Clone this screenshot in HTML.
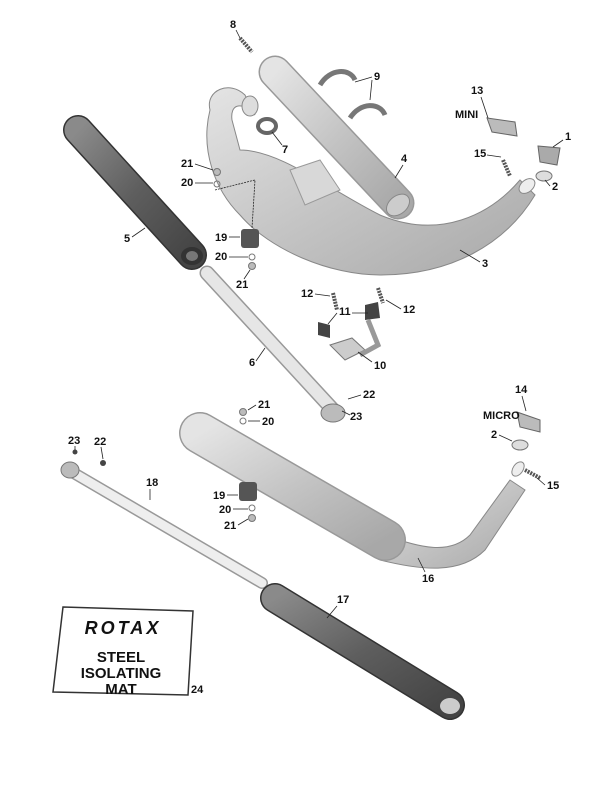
<!DOCTYPE html>
<html><head><meta charset="utf-8"><style>
html,body{margin:0;padding:0;background:#fff}
svg{display:block}
text{font-family:"Liberation Sans",sans-serif;font-weight:bold;font-size:11px;fill:#111}
.ld{stroke:#222;stroke-width:0.8;fill:none}
</style></head><body>
<svg width="616" height="792" viewBox="0 0 616 792" xmlns="http://www.w3.org/2000/svg">
<defs>
<linearGradient id="lg" x1="0" y1="0" x2="1" y2="1"><stop offset="0" stop-color="#e4e4e4"/><stop offset="0.5" stop-color="#c4c4c4"/><stop offset="1" stop-color="#a8a8a8"/></linearGradient>
<linearGradient id="dg" x1="0" y1="0" x2="1" y2="1"><stop offset="0" stop-color="#8a8a8a"/><stop offset="0.5" stop-color="#5e5e5e"/><stop offset="1" stop-color="#444"/></linearGradient>
</defs>
<rect width="616" height="792" fill="#fff"/>

<line x1="78" y1="130" x2="192" y2="255" stroke="#333" stroke-width="30" stroke-linecap="round"/>
<line x1="78" y1="130" x2="192" y2="255" stroke="url(#dg)" stroke-width="27" stroke-linecap="round"/>
<ellipse cx="192" cy="256" rx="11" ry="9" fill="#333"/><ellipse cx="192" cy="256" rx="6" ry="5" fill="#777"/>

<line x1="207" y1="273" x2="335" y2="412" stroke="#999" stroke-width="15" stroke-linecap="round"/>
<line x1="207" y1="273" x2="335" y2="412" stroke="#e6e6e6" stroke-width="12" stroke-linecap="round"/>
<ellipse cx="333" cy="413" rx="12" ry="9" fill="#bbb" stroke="#777"/>

<path d="M210,110 C205,90 230,80 245,95 L255,115 C240,100 230,105 232,120 L240,150 C280,150 330,190 380,215 C440,240 490,215 520,180 L535,195 C505,245 450,275 380,275 C330,275 270,250 240,215 C215,190 200,150 210,110 Z" fill="url(#lg)" stroke="#888" stroke-width="1"/>
<ellipse cx="527" cy="186" rx="9" ry="6" fill="#eee" stroke="#888" transform="rotate(-40 527 186)"/>
<ellipse cx="250" cy="106" rx="8" ry="10" fill="#ddd" stroke="#888"/>
<path d="M290,170 L320,160 L340,190 L305,205 Z" fill="#d8d8d8" stroke="#999"/>

<line x1="275" y1="72" x2="398" y2="203" stroke="#999" stroke-width="33" stroke-linecap="round"/>
<line x1="275" y1="72" x2="398" y2="203" stroke="url(#lg)" stroke-width="30" stroke-linecap="round"/>
<ellipse cx="398" cy="205" rx="13" ry="9" fill="#ccc" stroke="#888" transform="rotate(-40 398 205)"/>

<path d="M320,85 C330,68 350,68 355,80" fill="none" stroke="#777" stroke-width="5"/>
<path d="M350,118 C360,102 380,102 385,115" fill="none" stroke="#777" stroke-width="5"/>
<ellipse cx="267" cy="126" rx="9" ry="7" fill="none" stroke="#666" stroke-width="4"/>
<line x1="240" y1="38" x2="252" y2="52" stroke="#555" stroke-width="4" stroke-dasharray="2,1"/>

<path d="M487,118 L515,122 L517,136 L492,132 Z" fill="#bbb" stroke="#666"/>
<path d="M538,146 L560,148 L557,165 L540,162 Z" fill="#aaa" stroke="#666"/>
<ellipse cx="544" cy="176" rx="8" ry="5" fill="#ddd" stroke="#777"/>
<line x1="503" y1="160" x2="510" y2="176" stroke="#555" stroke-width="4" stroke-dasharray="2,1"/>

<rect x="241" y="229" width="18" height="19" rx="3" fill="#555"/>
<circle cx="217" cy="172" r="3.5" fill="#bbb" stroke="#777"/>
<circle cx="217" cy="184" r="3" fill="none" stroke="#777"/>
<circle cx="252" cy="257" r="3" fill="none" stroke="#777"/>
<circle cx="252" cy="266" r="3.5" fill="#bbb" stroke="#777"/>

<path d="M318,322 L330,325 L330,338 L318,335 Z" fill="#444"/>
<path d="M365,305 L378,302 L380,318 L365,320 Z" fill="#444"/>
<path d="M330,345 L352,338 L365,350 L345,360 Z" fill="#ccc" stroke="#777"/>
<path d="M368,320 L378,345 L360,355" fill="none" stroke="#999" stroke-width="5"/>
<line x1="333" y1="293" x2="337" y2="310" stroke="#555" stroke-width="4" stroke-dasharray="2,1"/>
<line x1="378" y1="288" x2="383" y2="303" stroke="#555" stroke-width="4" stroke-dasharray="2,1"/>

<path d="M385,535 C420,548 450,555 470,535 L510,480 L525,490 L485,550 C460,575 420,570 380,560 Z" fill="url(#lg)" stroke="#888"/>
<line x1="200" y1="433" x2="385" y2="540" stroke="#999" stroke-width="42" stroke-linecap="round"/>
<line x1="200" y1="433" x2="385" y2="540" stroke="url(#lg)" stroke-width="39" stroke-linecap="round"/>
<ellipse cx="518" cy="469" rx="8" ry="5" fill="#eee" stroke="#888" transform="rotate(-55 518 469)"/>
<path d="M517,412 L540,420 L540,432 L520,427 Z" fill="#bbb" stroke="#666"/>
<ellipse cx="520" cy="445" rx="8" ry="5" fill="#ddd" stroke="#777"/>
<line x1="525" y1="470" x2="540" y2="478" stroke="#555" stroke-width="4" stroke-dasharray="2,1"/>
<rect x="239" y="482" width="18" height="19" rx="3" fill="#555"/>
<circle cx="243" cy="412" r="3.5" fill="#bbb" stroke="#777"/>
<circle cx="243" cy="421" r="3" fill="none" stroke="#777"/>
<circle cx="252" cy="508" r="3" fill="none" stroke="#777"/>
<circle cx="252" cy="518" r="3.5" fill="#bbb" stroke="#777"/>

<line x1="72" y1="472" x2="262" y2="583" stroke="#999" stroke-width="12" stroke-linecap="round"/>
<line x1="72" y1="472" x2="262" y2="583" stroke="#eee" stroke-width="9" stroke-linecap="round"/>
<ellipse cx="70" cy="470" rx="9" ry="8" fill="#bbb" stroke="#777"/>
<circle cx="103" cy="463" r="3" fill="#444"/>
<circle cx="75" cy="452" r="2.5" fill="#444"/>

<line x1="275" y1="598" x2="450" y2="705" stroke="#333" stroke-width="30" stroke-linecap="round"/>
<line x1="275" y1="598" x2="450" y2="705" stroke="url(#dg)" stroke-width="27" stroke-linecap="round"/>
<ellipse cx="450" cy="706" rx="10" ry="8" fill="#ccc"/>

<polygon points="63,607 193,611 188,695 53,692" fill="#fff" stroke="#333" stroke-width="1.5"/>
<text x="123" y="634" text-anchor="middle" style="font-size:18px;letter-spacing:3px;font-weight:900;font-style:italic">ROTAX</text>
<text x="121" y="662" text-anchor="middle" style="font-size:15px">STEEL</text>
<text x="121" y="678" text-anchor="middle" style="font-size:15px">ISOLATING</text>
<text x="121" y="694" text-anchor="middle" style="font-size:15px">MAT</text>

<text x="230" y="28">8</text><line class="ld" x1="236" y1="30" x2="240" y2="38"/>
<text x="374" y="80">9</text><path class="ld" d="M372,77 L355,82 M372,80 L370,100"/>
<text x="282" y="153">7</text><line class="ld" x1="282" y1="145" x2="272" y2="132"/>
<text x="401" y="162">4</text><line class="ld" x1="403" y1="165" x2="395" y2="178"/>
<text x="471" y="94">13</text><line class="ld" x1="481" y1="97" x2="488" y2="118"/>
<text x="455" y="118">MINI</text>
<text x="565" y="140">1</text><line class="ld" x1="563" y1="140" x2="553" y2="147"/>
<text x="474" y="157">15</text><line class="ld" x1="487" y1="155" x2="501" y2="157"/>
<text x="552" y="190">2</text><line class="ld" x1="550" y1="186" x2="545" y2="180"/>
<text x="482" y="267">3</text><line class="ld" x1="480" y1="262" x2="460" y2="250"/>
<text x="181" y="167">21</text><line class="ld" x1="195" y1="164" x2="213" y2="170"/>
<text x="181" y="186">20</text><line class="ld" x1="195" y1="183" x2="213" y2="183"/>
<path class="ld" d="M215,190 L255,180 L252,228" stroke-dasharray="2,1"/>
<text x="124" y="242">5</text><line class="ld" x1="132" y1="237" x2="145" y2="228"/>
<text x="215" y="241">19</text><line class="ld" x1="229" y1="237" x2="240" y2="237"/>
<text x="215" y="260">20</text><line class="ld" x1="229" y1="257" x2="248" y2="257"/>
<text x="236" y="288">21</text><line class="ld" x1="244" y1="279" x2="250" y2="270"/>
<text x="301" y="297">12</text><line class="ld" x1="315" y1="294" x2="330" y2="296"/>
<text x="403" y="313">12</text><line class="ld" x1="401" y1="309" x2="386" y2="300"/>
<text x="339" y="315">11</text><path class="ld" d="M337,313 L328,324 M352,313 L368,313"/>
<text x="374" y="369">10</text><line class="ld" x1="372" y1="362" x2="358" y2="352"/>
<text x="249" y="366">6</text><line class="ld" x1="256" y1="361" x2="265" y2="348"/>
<text x="363" y="398">22</text><line class="ld" x1="361" y1="395" x2="348" y2="399"/>
<text x="350" y="420">23</text><line class="ld" x1="350" y1="415" x2="342" y2="411"/>
<text x="258" y="408">21</text><line class="ld" x1="256" y1="405" x2="248" y2="410"/>
<text x="262" y="425">20</text><line class="ld" x1="260" y1="421" x2="248" y2="421"/>
<text x="515" y="393">14</text><line class="ld" x1="522" y1="396" x2="526" y2="411"/>
<text x="483" y="419">MICRO</text>
<text x="491" y="438">2</text><line class="ld" x1="499" y1="435" x2="512" y2="441"/>
<text x="547" y="489">15</text><line class="ld" x1="545" y1="485" x2="537" y2="478"/>
<text x="68" y="444">23</text><line class="ld" x1="75" y1="446" x2="75" y2="450"/>
<text x="94" y="445">22</text><line class="ld" x1="101" y1="447" x2="103" y2="459"/>
<text x="146" y="486">18</text><line class="ld" x1="150" y1="489" x2="150" y2="500"/>
<text x="213" y="499">19</text><line class="ld" x1="227" y1="495" x2="238" y2="495"/>
<text x="219" y="513">20</text><line class="ld" x1="233" y1="509" x2="248" y2="509"/>
<text x="224" y="529">21</text><line class="ld" x1="238" y1="525" x2="248" y2="519"/>
<text x="422" y="582">16</text><line class="ld" x1="425" y1="572" x2="418" y2="558"/>
<text x="337" y="603">17</text><line class="ld" x1="337" y1="606" x2="327" y2="618"/>
<text x="191" y="693">24</text>
</svg>
</body></html>
